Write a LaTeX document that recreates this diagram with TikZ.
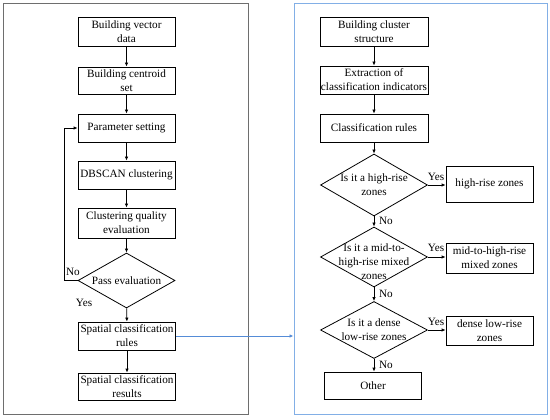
\documentclass[tikz,border=0pt]{standalone}
\usepackage{fontspec}
\setmainfont{Liberation Serif}
\usetikzlibrary{arrows.meta,shapes.geometric}
\definecolor{framegray}{RGB}{110,110,110}
\definecolor{frameblue}{RGB}{130,175,230}
\definecolor{linkblue}{RGB}{85,140,215}
\begin{document}
\begin{tikzpicture}[x=1pt,y=-1pt,
  font=\fontsize{11.2}{14}\selectfont,
  lbox/.style={draw, line width=0.8pt, minimum width=97pt, align=center, inner sep=0.5pt},
  rbox/.style={draw, line width=0.8pt, minimum width=108pt, align=center, inner sep=0.5pt},
  ybox/.style={draw, line width=0.8pt, minimum width=87pt, align=center, inner sep=0.5pt},
  dshape/.style={draw, line width=0.8pt, diamond, inner sep=0pt},
  dtext/.style={align=center, inner sep=0pt, font=\fontsize{11.2}{14}\selectfont},
  lbl/.style={inner sep=0pt},
  frame/.style={draw, line width=1pt, inner sep=0pt},
  arr/.style={draw, line width=0.8pt, -{Latex[length=4pt,width=3.5pt]}}]
\useasboundingbox (0,0) rectangle (550,420);
% frames
\node[frame, draw=framegray, minimum width=245pt, minimum height=410pt] (LF) at (125.5,209) {};
\node[frame, draw=frameblue, minimum width=253pt, minimum height=410pt] (RF) at (420.5,209) {};
% left column
\node[lbox, minimum height=29pt] (L1) at (126.5,31.5) {Building vector\\data};
\node[lbox, minimum height=27pt] (L2) at (126.5,80.5) {Building centroid\\set};
\node[lbox, minimum height=28pt] (L3) at (126.5,128) {Parameter setting};
\node[lbox, minimum height=28pt] (L4) at (126.5,175) {DBSCAN clustering};
\node[lbox, minimum height=30pt] (L5) at (126.5,223) {Clustering quality\\evaluation};
\node[dshape, minimum width=97pt, minimum height=55pt] (LD) at (126.5,280.5) {};
\node[dtext] at (LD) {Pass evaluation};
\node[lbox, minimum height=28pt] (L6) at (127,336) {Spatial classification\\rules};
\node[lbox, minimum height=27pt] (L7) at (127,386.5) {Spatial classification\\results};
\draw[arr] (L1) -- (L2);
\draw[arr] (L2) -- (L3);
\draw[arr] (L3) -- (L4);
\draw[arr] (L4) -- (L5);
\draw[arr] (L5) -- (LD);
\draw[arr] (LD) -- (L6);
\draw[arr] (L6) -- (L7);
\coordinate (loop) at (64,280.5);
\draw[arr] (LD.west) -- (loop) |- (L3.west);
\node[lbl] at (73,272) {No};
\node[lbl] at (84,303) {Yes};
% link
\draw[arr, draw=linkblue, -{Latex[length=4pt,width=3.5pt,color=linkblue]}] (L6.east) -- (L6.east -| RF.west);
% right column
\node[rbox, minimum height=29pt] (R1) at (374,31.5) {Building cluster\\structure};
\node[rbox, minimum height=28pt] (R2) at (374,80) {Extraction of\\classification indicators};
\node[rbox, minimum height=28pt] (R3) at (374,128) {Classification rules};
\node[dshape, minimum width=107pt, minimum height=62pt] (D1) at (374,185) {};
\node[dtext] at (D1) {Is it a high-rise\\zones};
\node[dshape, minimum width=107pt, minimum height=60pt] (D2) at (374,257) {};
\node[dtext] at ([yshift=-5pt]D2) {Is it a mid-to-\\high-rise mixed\\zones};
\node[dshape, minimum width=107pt, minimum height=57pt] (D3) at (374,330) {};
\node[dtext] at (D3) {Is it a dense\\low-rise zones};
\node[ybox, minimum height=36pt] (Y1) at (489.5,184) {high-rise zones};
\node[ybox, minimum height=30pt] (Y2) at (489.5,258) {mid-to-high-rise\\mixed zones};
\node[ybox, minimum height=29pt] (Y3) at (489.5,330.5) {dense low-rise\\zones};
\node[lbox, minimum height=27pt] (OT) at (373,385.5) {Other};
\draw[arr] (R1) -- (R2);
\draw[arr] (R2) -- (R3);
\draw[arr] (R3) -- (D1);
\draw[arr] (D1) -- (D2);
\draw[arr] (D2) -- (D3);
\draw[arr] (D3.south) -- (OT.north -| D3.south);
\draw[arr] (D1.east) -- (D1.east -| Y1.west);
\draw[arr] (D2.east) -- (D2.east -| Y2.west);
\draw[arr] (D3.east) -- (D3.east -| Y3.west);
\node[lbl] at (436,177) {Yes};
\node[lbl] at (436,248) {Yes};
\node[lbl] at (436,322) {Yes};
\node[lbl] at (386,221) {No};
\node[lbl] at (386,294) {No};
\node[lbl] at (386,365) {No};
\end{tikzpicture}
\end{document}
